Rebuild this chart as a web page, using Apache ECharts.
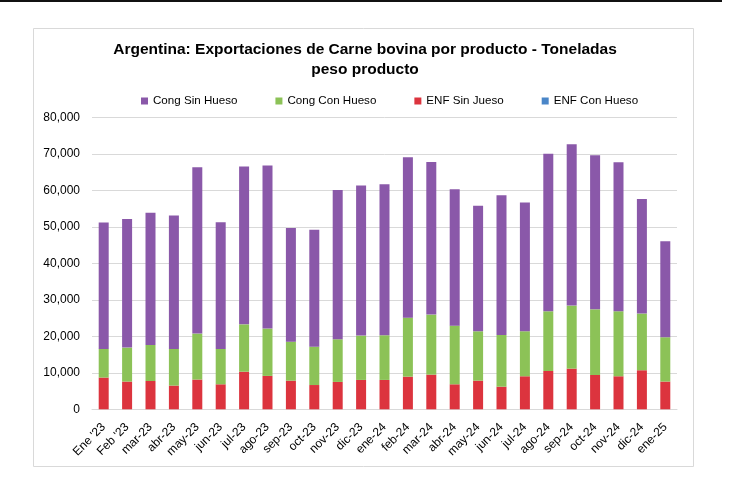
<!DOCTYPE html>
<html>
<head>
<meta charset="utf-8">
<script src="https://cdn.jsdelivr.net/npm/echarts@6/dist/echarts.min.js"></script>
<style>
html,body{margin:0;padding:0;background:#fff;}
#chart{width:730px;height:483px;}
</style>
</head>
<body>
<div id="chart"></div>
<script>
const categories = ["Ene '23","Feb '23","mar-23","abr-23","may-23","jun-23","jul-23","ago-23","sep-23","oct-23","nov-23","dic-23","ene-24","feb-24","mar-24","abr-24","may-24","jun-24","jul-24","ago-24","sep-24","oct-24","nov-24","dic-24","ene-25"];
const congSinHueso = [34600,35250,36250,36530,45570,34700,43280,44660,31140,32050,40910,41100,41370,43930,41820,37350,34430,38270,35250,43190,44200,42190,40820,31410,26300];
const congConHueso = [7850,9300,9870,10050,12600,9680,12970,12970,10690,10500,11690,12140,12230,16160,16440,16070,13520,14150,12330,16350,17260,17990,17810,15530,12140];
const enfSinJueso = [8700,7600,7750,6500,8150,6850,10300,9150,7850,6650,7500,8050,8050,8950,9500,6850,7850,6200,9050,10500,11150,9400,9050,10700,7600];
const enfConHueso = [0,0,0,0,0,0,0,0,0,0,0,0,0,0,0,0,0,0,0,0,0,0,0,0,0];
const yTicks = [0,10000,20000,30000,40000,50000,60000,70000,80000];

const FONT = "'Liberation Sans', Arial, Helvetica, sans-serif";
const chart = echarts.init(document.getElementById('chart'), null, {renderer:'canvas'});
const mk = (name, data, color) => ({
  name, type:'bar', stack:'total', data, barWidth:10,
  itemStyle:{color}, emphasis:{disabled:true}
});
chart.setOption({
  backgroundColor:'#fff',
  animation:false,
  textStyle:{fontFamily:FONT},
  graphic:[
    {type:'rect', shape:{x:0,y:0,width:722,height:2}, style:{fill:'#111'}, silent:true, z:-1},
    {type:'rect', shape:{x:33.5,y:28.5,width:660,height:438}, style:{fill:'#fff', stroke:'#d9d9d9', lineWidth:1}, silent:true, z:-1}
  ],
  title:{
    text:'Argentina: Exportaciones de Carne bovina por producto - Toneladas\npeso producto',
    left:'center', top:35,
    textStyle:{fontFamily:FONT, fontSize:15.5, fontWeight:'bold', color:'#000', lineHeight:20}
  },
  legend:{
    data:['Cong Sin Hueso','Cong Con Hueso','ENF Sin Jueso','ENF Con Hueso'],
    left:136, top:90, itemWidth:7, itemHeight:7, itemGap:38, icon:'rect',
    textStyle:{fontFamily:FONT, fontSize:11.6, color:'#000'},
    selectedMode:false
  },
  grid:{left:92, right:53, top:117.3, bottom:73.7},
  xAxis:{
    type:'category', data:categories,
    axisLine:{lineStyle:{color:'#d9d9d9'}},
    axisTick:{show:false},
    axisLabel:{rotate:45, fontFamily:FONT, fontSize:12, color:'#000', margin:16, interval:0}
  },
  yAxis:{
    type:'value', min:yTicks[0], max:yTicks[yTicks.length-1], interval:10000,
    axisLine:{show:false}, axisTick:{show:false},
    splitLine:{lineStyle:{color:'#d9d9d9'}},
    axisLabel:{fontFamily:FONT, fontSize:12, color:'#000', margin:12,
      formatter:v => v.toLocaleString('en-US')}
  },
  series:[
    mk('ENF Con Hueso', enfConHueso, '#4a86c8'),
    mk('ENF Sin Jueso', enfSinJueso, '#dc343e'),
    mk('Cong Con Hueso', congConHueso, '#8cc257'),
    mk('Cong Sin Hueso', congSinHueso, '#8a58a9')
  ]
});
</script>
</body>
</html>
